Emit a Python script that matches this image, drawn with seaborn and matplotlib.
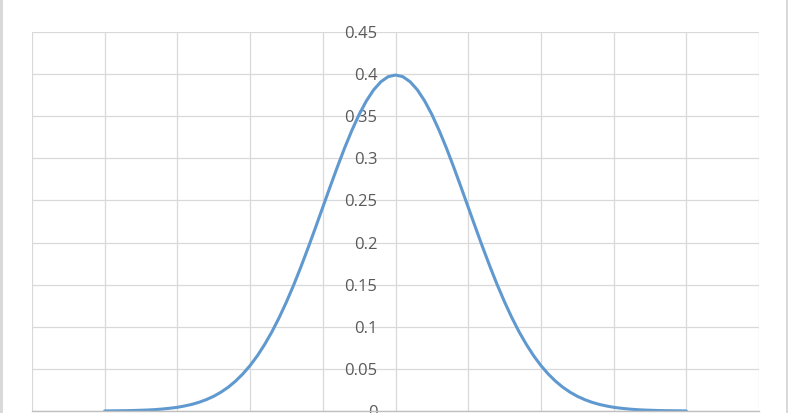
import matplotlib
matplotlib.use("Agg")
import matplotlib.pyplot as plt
import seaborn as sns
import pandas as pd
from matplotlib.patches import Rectangle

# Data (standard normal density curve)
x_values = [-4.0, -3.9, -3.8, -3.7, -3.6, -3.5, -3.4, -3.3, -3.2, -3.1,
            -3.0, -2.9, -2.8, -2.7, -2.6, -2.5, -2.4, -2.3, -2.2, -2.1,
            -2.0, -1.9, -1.8, -1.7, -1.6, -1.5, -1.4, -1.3, -1.2, -1.1,
            -1.0, -0.9, -0.8, -0.7, -0.6, -0.5, -0.4, -0.3, -0.2, -0.1,
            0.0, 0.1, 0.2, 0.3, 0.4, 0.5, 0.6, 0.7, 0.8, 0.9,
            1.0, 1.1, 1.2, 1.3, 1.4, 1.5, 1.6, 1.7, 1.8, 1.9,
            2.0, 2.1, 2.2, 2.3, 2.4, 2.5, 2.6, 2.7, 2.8, 2.9,
            3.0, 3.1, 3.2, 3.3, 3.4, 3.5, 3.6, 3.7, 3.8, 3.9, 4.0]
y_values = [0.0001, 0.0002, 0.0003, 0.0004, 0.0006, 0.0009, 0.0012, 0.0017, 0.0024, 0.0033,
            0.0044, 0.0060, 0.0079, 0.0104, 0.0136, 0.0175, 0.0224, 0.0283, 0.0355, 0.0440,
            0.0540, 0.0656, 0.0790, 0.0940, 0.1109, 0.1295, 0.1497, 0.1714, 0.1942, 0.2179,
            0.2420, 0.2661, 0.2897, 0.3123, 0.3332, 0.3521, 0.3683, 0.3814, 0.3910, 0.3970,
            0.3989, 0.3970, 0.3910, 0.3814, 0.3683, 0.3521, 0.3332, 0.3123, 0.2897, 0.2661,
            0.2420, 0.2179, 0.1942, 0.1714, 0.1497, 0.1295, 0.1109, 0.0940, 0.0790, 0.0656,
            0.0540, 0.0440, 0.0355, 0.0283, 0.0224, 0.0175, 0.0136, 0.0104, 0.0079, 0.0060,
            0.0044, 0.0033, 0.0024, 0.0017, 0.0012, 0.0009, 0.0006, 0.0004, 0.0003, 0.0002, 0.0001]
y_ticks = [0, 0.05, 0.1, 0.15, 0.2, 0.25, 0.3, 0.35, 0.4, 0.45]
y_tick_labels = ["0", "0.05", "0.1", "0.15", "0.2", "0.25", "0.3", "0.35", "0.4", "0.45"]
x_grid = [-5, -4, -3, -2, -1, 0, 1, 2, 3, 4, 5]

df = pd.DataFrame({"x": x_values, "y": y_values})

sns.set_theme(style="white")
plt.rcParams["font.family"] = ["Open Sans", "DejaVu Sans"]

W, H = 788, 413
fig = plt.figure(figsize=(W / 100, H / 100), dpi=100)
fig.patch.set_facecolor("white")
ax = fig.add_axes([32 / W, (H - 411) / H, (759 - 32) / W, (411 - 32) / H])
ax.set_facecolor("white")

sns.lineplot(data=df, x="x", y="y", ax=ax, sort=False, color="#5f99cf",
             linewidth=2.2, zorder=3)

ax.set_xlim(-5, 5)
ax.set_ylim(0, 0.45)
ax.set_xticks(x_grid)
ax.set_yticks(y_ticks)
ax.set_yticklabels(y_tick_labels)
ax.tick_params(axis="x", length=0, labelbottom=False)
ax.tick_params(axis="y", length=0, pad=13, labelsize=12, labelcolor="#595959")
ax.set_xlabel("")
ax.set_ylabel("")
ax.grid(True, color="#d9d9d9", linewidth=0.9, zorder=0)

for s in ["top", "right"]:
    ax.spines[s].set_visible(False)
ax.spines["left"].set_position(("data", 0))
ax.spines["left"].set_visible(False)
ax.spines["bottom"].set_color("#bfbfbf")
ax.spines["bottom"].set_linewidth(1.0)
ax.spines["bottom"].set_zorder(4)
for lbl in ax.get_yticklabels():
    lbl.set_zorder(5)
ax.yaxis.set_ticks_position("left")

# outer chart border strips
fig.patches.append(Rectangle((0, 0), 2.5 / W, 1, transform=fig.transFigure,
                             facecolor="#d9d9d9", edgecolor="none"))
fig.patches.append(Rectangle((1 - 2.5 / W, 0), 2.5 / W, 1, transform=fig.transFigure,
                             facecolor="#d9d9d9", edgecolor="none"))

fig.savefig("out.png", dpi=100)
